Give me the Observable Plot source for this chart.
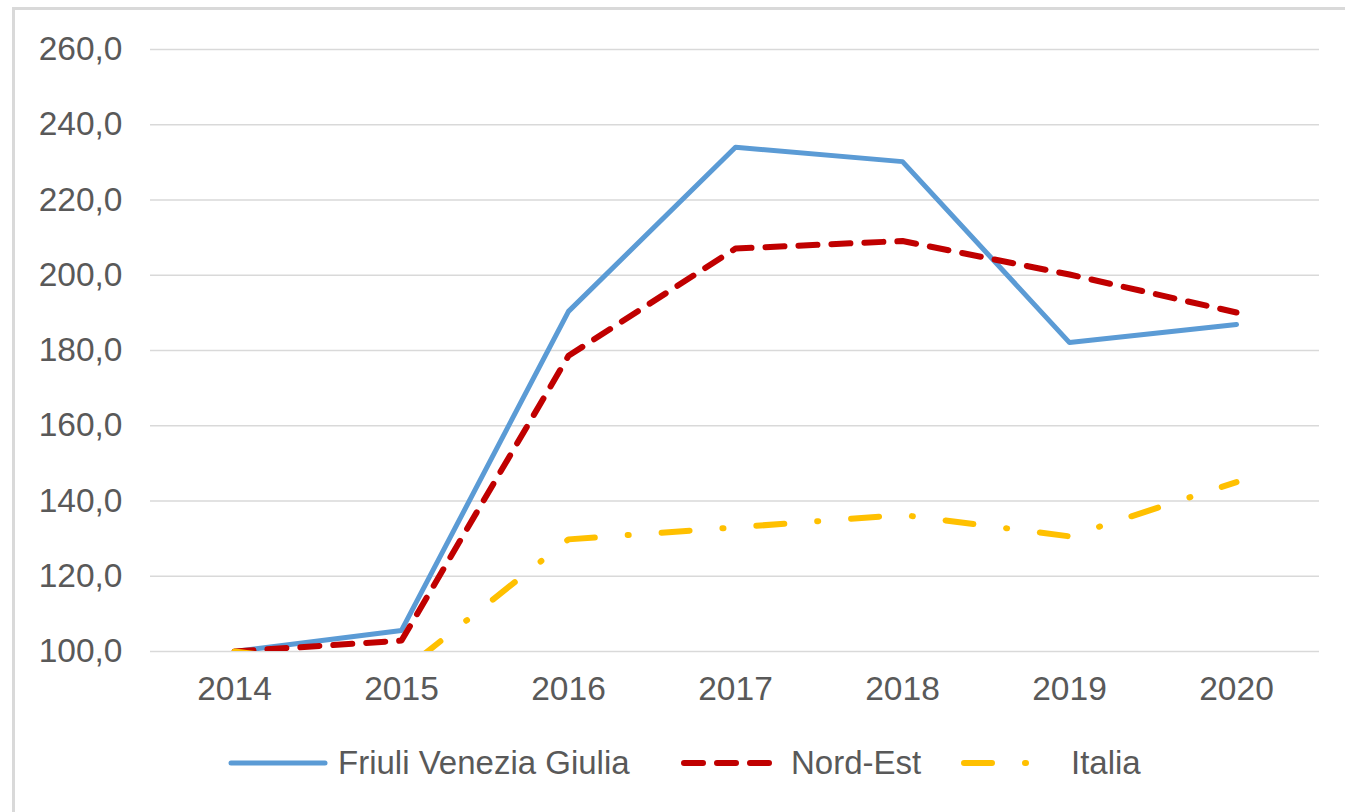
<!DOCTYPE html>
<html>
<head>
<meta charset="utf-8">
<script src="https://cdn.jsdelivr.net/npm/d3@7"></script>
<script src="https://cdn.jsdelivr.net/npm/@observablehq/plot@0.6"></script>
<style>
  body { margin: 0; background: #fff; font-family: "Liberation Sans", Arial, sans-serif; }
  #wrap { position: relative; width: 1345px; height: 812px; overflow: hidden; background: #fff; }
  #frame { position: absolute; left: 12px; top: 7px; width: 1400px; height: 900px;
           border-left: 3px solid #d9d9d9; border-top: 3px solid #d9d9d9; }
  #chart { position: absolute; left: 0; top: 0; }
  #legend { position: absolute; left: 0; width: 1345px; top: 743px; height: 40px;
            font-size: 33px; color: #595959; }
  .item { position: absolute; top: 0; height: 40px; display: flex; align-items: center; white-space: nowrap; }
  .item svg { margin-right: 10px; }
</style>
</head>
<body>
<div id="wrap">
  <div id="frame"></div>
  <div id="chart"></div>
  <div id="legend"></div>
</div>
<script>
const years = ["2014", "2015", "2016", "2017", "2018", "2019", "2020"];
const fvg = [100, 105.6, 190.4, 234.0, 230.2, 182.1, 186.9];
const nordEst = [100, 102.9, 178.6, 207.1, 209.1, 200.2, 190.1];
const italia = [100, 94.5, 129.8, 133.0, 136.3, 130.6, 145.0];
const seriesNames = ["Friuli Venezia Giulia", "Nord-Est", "Italia"];
const yTicks = [100, 120, 140, 160, 180, 200, 220, 240, 260];

const colors = ["#5B9BD5", "#C00000", "#FFC000"];
const widths = [5, 6, 6];
const dashes = [null, "19,14", "28,33,1,33"];
const legendLeft = [228, 681, 961];

const rows = (vals) => years.map((y, i) => ({year: y, value: vals[i]}));
const seriesData = [rows(fvg), rows(nordEst), rows(italia)];

const fmt = (d) => d3.format(".1f")(d).replace(".", ",");

const plot = Plot.plot({
  width: 1345,
  height: 720,
  marginLeft: 150,
  marginRight: 26,
  marginTop: 49,
  marginBottom: 69,
  style: { fontSize: "33.5px", fontFamily: "'Liberation Sans', Arial, sans-serif", color: "#595959", background: "transparent" },
  x: { type: "point", domain: years, padding: 0.5, label: null },
  y: { domain: [100, 260], label: null },
  marks: [
    Plot.gridY(yTicks, { stroke: "#d9d9d9", strokeOpacity: 1, strokeWidth: 1.4 }),
    Plot.axisY(yTicks, { tickSize: 0, tickPadding: 28, tickFormat: fmt, label: null }),
    Plot.axisX({ tickSize: 0, tickPadding: 25, label: null }),
    ...seriesData.map((data, i) => Plot.line(data, {
      x: "year", y: "value",
      stroke: colors[i], strokeWidth: widths[i],
      strokeDasharray: dashes[i] || undefined,
      strokeLinecap: "round", strokeLinejoin: "round",
      curve: "linear", clip: true
    }))
  ]
});
document.getElementById("chart").appendChild(plot);

const legend = document.getElementById("legend");
seriesNames.forEach((name, i) => {
  const item = document.createElement("div");
  item.className = "item";
  item.style.left = legendLeft[i] + "px";
  const ns = "http://www.w3.org/2000/svg";
  const svg = document.createElementNS(ns, "svg");
  svg.setAttribute("width", 100);
  svg.setAttribute("height", 20);
  const line = document.createElementNS(ns, "line");
  line.setAttribute("x1", 3); line.setAttribute("x2", 97);
  line.setAttribute("y1", 10); line.setAttribute("y2", 10);
  line.setAttribute("stroke", colors[i]);
  line.setAttribute("stroke-width", widths[i]);
  line.setAttribute("stroke-linecap", "round");
  if (dashes[i]) line.setAttribute("stroke-dasharray", dashes[i]);
  svg.appendChild(line);
  const span = document.createElement("span");
  span.textContent = name;
  item.appendChild(svg);
  item.appendChild(span);
  legend.appendChild(item);
});
</script>
</body>
</html>
